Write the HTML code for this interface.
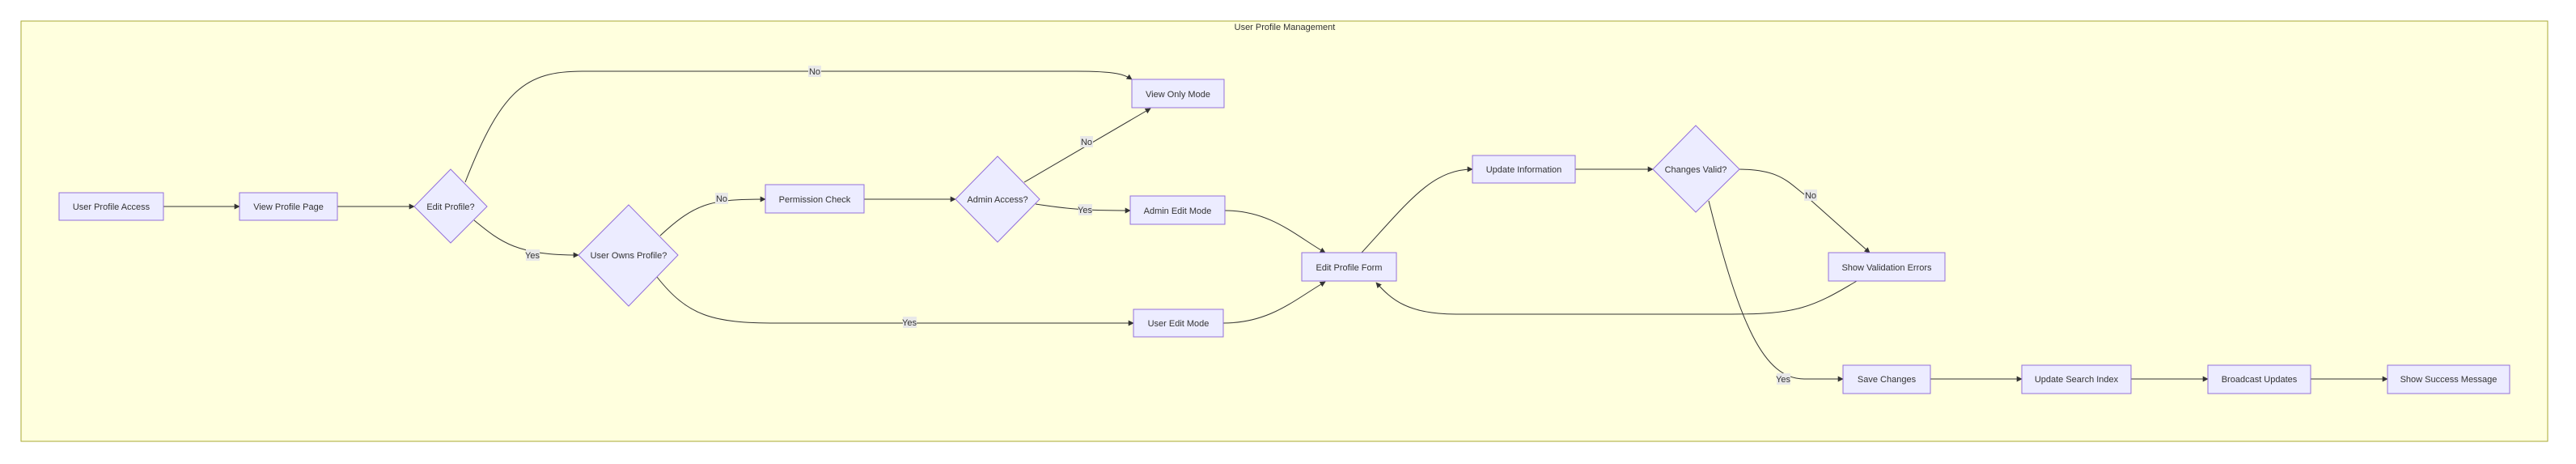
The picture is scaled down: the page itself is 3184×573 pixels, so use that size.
<!DOCTYPE html>
<html><head><meta charset="utf-8"><style>
html,body{margin:0;padding:0;background:#fff;}
svg{display:block;}
text{font-family:"Liberation Sans",Arial,sans-serif;font-size:11px;fill:#333;}
.n{fill:#ECECFF;stroke:#9370DB;stroke-width:1;}
.e{fill:none;stroke:#333;stroke-width:1;}
.lb{fill:#e8e8e8;}
</style></head><body>
<svg width="3184" height="573" viewBox="0 0 3184 573" xmlns="http://www.w3.org/2000/svg">
<defs><marker id="a" viewBox="0 0 10 10" refX="9" refY="5" markerWidth="7" markerHeight="7" orient="auto"><path d="M0,0L10,5L0,10z" fill="#333"/></marker></defs>
<rect x="26" y="26" width="3123" height="519" fill="#FFFFDE" stroke="#AAAA33" stroke-width="1"/>
<text x="1588" y="37" text-anchor="middle">User Profile Management</text>

<!-- edges -->
<g class="e" marker-end="url(#a)">
<path d="M202,255 L296,255"/>
<path d="M417,255 L512,255"/>
<path d="M586,272 C620,300 640,315 715,315"/>
<path d="M575,225 C620,110 650,88 720,88 L1330,88 C1380,88 1390,92 1399,98"/>
<path d="M816,291 C860,250 880,246 946,246"/>
<path d="M812,342 C850,390 880,399 960,399 L1401,399"/>
<path d="M1068,246 L1181,246"/>
<path d="M1266,225 L1422,134"/>
<path d="M1280,252 C1320,258 1340,260 1397,260"/>
<path d="M1514,260 C1570,260 1600,290 1638,312"/>
<path d="M1512,399 C1570,399 1600,370 1638,348"/>
<path d="M1683,312 C1740,250 1770,209 1820,209"/>
<path d="M1947,209 L2043,209"/>
<path d="M2148,209 C2200,209 2210,225 2230,240 L2311,312"/>
<path d="M2112,248 C2150,400 2180,468 2230,468 L2278,468"/>
<path d="M2295,347 C2240,380 2220,388 2140,388 L1800,388 C1740,388 1720,370 1701,349"/>
<path d="M2386,468 L2499,468"/>
<path d="M2634,468 L2729,468"/>
<path d="M2856,468 L2951,468"/>
</g>

<!-- edge labels -->
<rect class="lb" x="999" y="81" width="16" height="14"/><text x="1007" y="92" text-anchor="middle">No</text>
<rect class="lb" x="650" y="308" width="17" height="14"/><text x="658" y="319" text-anchor="middle">Yes</text>
<rect class="lb" x="884" y="238" width="16" height="14"/><text x="892" y="249" text-anchor="middle">No</text>
<rect class="lb" x="1335" y="168" width="16" height="14"/><text x="1343" y="179" text-anchor="middle">No</text>
<rect class="lb" x="1333" y="252" width="17" height="14"/><text x="1341" y="263" text-anchor="middle">Yes</text>
<rect class="lb" x="1116" y="391" width="17" height="14"/><text x="1124" y="402" text-anchor="middle">Yes</text>
<rect class="lb" x="2230" y="234" width="16" height="14"/><text x="2238" y="245" text-anchor="middle">No</text>
<rect class="lb" x="2196" y="461" width="17" height="14"/><text x="2204" y="472" text-anchor="middle">Yes</text>

<!-- nodes -->
<rect class="n" x="73" y="238" width="129" height="34"/><text x="137.5" y="259" text-anchor="middle">User Profile Access</text>
<rect class="n" x="296" y="238" width="121" height="34"/><text x="356.5" y="259" text-anchor="middle">View Profile Page</text>
<polygon class="n" points="557,209 602,255 557,300 512,255"/><text x="557" y="259" text-anchor="middle">Edit Profile?</text>
<polygon class="n" points="777,253 838,315 777,378 715,315"/><text x="777" y="319" text-anchor="middle">User Owns Profile?</text>
<rect class="n" x="946" y="228" width="122" height="35"/><text x="1007" y="250" text-anchor="middle">Permission Check</text>
<polygon class="n" points="1233,193 1285,246 1233,299 1181,246"/><text x="1233" y="250" text-anchor="middle">Admin Access?</text>
<rect class="n" x="1399" y="98" width="114" height="35"/><text x="1456" y="120" text-anchor="middle">View Only Mode</text>
<rect class="n" x="1397" y="242" width="117" height="35"/><text x="1455.5" y="264" text-anchor="middle">Admin Edit Mode</text>
<rect class="n" x="1401" y="382" width="111" height="34"/><text x="1456.5" y="403" text-anchor="middle">User Edit Mode</text>
<rect class="n" x="1609" y="312" width="117" height="35"/><text x="1667.5" y="334" text-anchor="middle">Edit Profile Form</text>
<rect class="n" x="1820" y="192" width="127" height="34"/><text x="1883.5" y="213" text-anchor="middle">Update Information</text>
<polygon class="n" points="2096,155 2150,209 2096,262 2043,209"/><text x="2096" y="213" text-anchor="middle">Changes Valid?</text>
<rect class="n" x="2260" y="312" width="144" height="35"/><text x="2332" y="334" text-anchor="middle">Show Validation Errors</text>
<rect class="n" x="2278" y="451" width="108" height="35"/><text x="2332" y="472" text-anchor="middle">Save Changes</text>
<rect class="n" x="2499" y="451" width="135" height="35"/><text x="2566.5" y="472" text-anchor="middle">Update Search Index</text>
<rect class="n" x="2729" y="451" width="127" height="35"/><text x="2792.5" y="472" text-anchor="middle">Broadcast Updates</text>
<rect class="n" x="2951" y="451" width="151" height="35"/><text x="3026.5" y="472" text-anchor="middle">Show Success Message</text>
</svg>
</body></html>
